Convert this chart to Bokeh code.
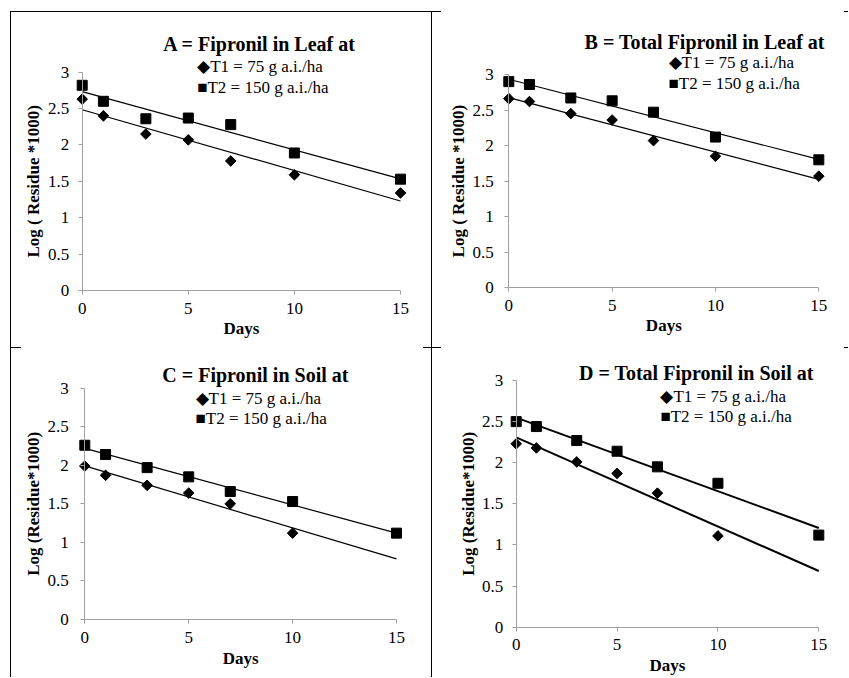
import numpy as np
from bokeh.plotting import figure
from bokeh.models import Range1d, FixedTicker, Label, Div, Spacer
from bokeh.layouts import row, column
from bokeh.embed import file_html
from bokeh.resources import INLINE

# ---------------- data ----------------
days = [0, 1, 3, 5, 7, 10, 15]
days_short = [0, 1, 3, 5, 7, 10]

a_t1 = [2.63, 2.40, 2.15, 2.07, 1.78, 1.59, 1.34]
a_t2 = [2.82, 2.60, 2.36, 2.37, 2.28, 1.89, 1.53]

b_t1 = [2.66, 2.62, 2.45, 2.36, 2.07, 1.85, 1.57]
b_t2 = [2.90, 2.86, 2.67, 2.63, 2.47, 2.12, 1.80]

c_t1 = [1.99, 1.87, 1.74, 1.64, 1.50, 1.12]
c_t2 = [2.26, 2.14, 1.97, 1.85, 1.66, 1.53, 1.12]

d_t1 = [2.23, 2.18, 2.01, 1.87, 1.63, 1.11]
d_t2 = [2.50, 2.44, 2.27, 2.14, 1.95, 1.75, 1.12]

x_ticks = [0, 5, 10, 15]
y_ticks = [0, 0.5, 1, 1.5, 2, 2.5, 3]
y_tick_labels = ["0", "0.5", "1", "1.5", "2", "2.5", "3"]

titles = ["A = Fipronil in Leaf at", "B = Total Fipronil in Leaf at",
          "C = Fipronil in Soil at", "D = Total Fipronil in Soil at"]
legend_labels = ["T1 = 75 g a.i./ha", "T2 = 150 g a.i./ha"]
ylabels = ["Log ( Residue *1000)", "Log ( Residue *1000)",
           "Log (Residue*1000)", "Log (Residue*1000)"]
xlabel = "Days"

FONT = "Liberation Serif"
AXIS_GRAY = "#a0a0a0"


def make_panel(w, h, x0px, x15px, y3px, y0px, x1, y1, x2, y2, title, ttl_xy,
               leg_x, leg_y, ylabel, ystand, ylab_px, xlab_px, lw):
    # the plot frame fills the whole canvas; axes sit at x = 0 and y = 0
    s = (x15px - x0px) / (x_ticks[-1] - x_ticks[0])
    t = (y0px - y3px) / (y_ticks[-1] - y_ticks[0])
    x_start = x_ticks[0] - x0px / s
    x_end = x_ticks[-1] + (w - x15px) / s
    y_start = y_ticks[0] - (h - y0px) / t
    y_end = y_ticks[0] + y0px / t
    p = figure(width=w, height=h,
               x_range=Range1d(x_start, x_end),
               y_range=Range1d(y_start, y_end),
               output_backend="svg", toolbar_location=None,
               min_border_left=0, min_border_right=0,
               min_border_top=0, min_border_bottom=0)
    p.xgrid.visible = False
    p.ygrid.visible = False
    p.outline_line_color = None
    p.background_fill_color = "white"
    p.border_fill_color = "white"

    p.xaxis.ticker = FixedTicker(ticks=x_ticks, minor_ticks=[])
    p.yaxis.ticker = FixedTicker(ticks=y_ticks, minor_ticks=[])
    p.yaxis.major_label_overrides = dict(zip(y_ticks, y_tick_labels))
    p.xaxis.fixed_location = y_ticks[0]
    p.yaxis.fixed_location = x_ticks[0]
    p.xaxis.bounds = (x_ticks[0], x_ticks[-1])
    p.yaxis.bounds = (y_ticks[0], y_ticks[-1])

    for ax in (p.xaxis[0], p.yaxis[0]):
        ax.axis_line_color = AXIS_GRAY
        ax.axis_line_width = 1
        ax.major_tick_line_color = AXIS_GRAY
        ax.major_tick_out = 4
        ax.major_tick_in = 0
        ax.minor_tick_line_color = None
        ax.major_label_text_font = FONT
        ax.major_label_text_font_size = "17px"
        ax.major_label_text_color = "black"
    p.xaxis.major_label_standoff = 8
    p.yaxis.major_label_standoff = ystand

    # axis titles
    p.add_layout(Label(x=(x_ticks[0] + x_ticks[-1]) / 2, y=y_ticks[0] - xlab_px / t,
                       text=xlabel, text_align="center", text_baseline="middle",
                       text_font=FONT, text_font_size="17px",
                       text_font_style="bold", text_color="black"))
    p.add_layout(Label(x=x_ticks[0] - ylab_px / s, y=(y_ticks[0] + y_ticks[-1]) / 2,
                       text=ylabel, angle=np.pi / 2,
                       text_align="center", text_baseline="middle",
                       text_font=FONT, text_font_size="17px",
                       text_font_style="bold", text_color="black"))

    # trend lines (least squares fit of each series, drawn over the day span)
    xs = np.array([days[0], days[-1]], dtype=float)
    for xx, yy in ((x1, y1), (x2, y2)):
        m, c = np.polyfit(xx, yy, 1)
        p.line(xs, m * xs + c, line_color="black", line_width=lw)

    p.scatter(x1, y1, marker="square", angle=np.pi / 4, size=7.5,
              fill_color="black", line_color="black")
    p.scatter(x2, y2, marker="square", size=10,
              fill_color="black", line_color="black")

    p.add_layout(Label(x=ttl_xy[0], y=ttl_xy[1], text=title,
                       text_align="center", text_baseline="middle",
                       text_font=FONT, text_font_size="20px",
                       text_font_style="bold", text_color="black"))
    p.add_layout(Label(x=leg_x, y=leg_y[0], text="\u25C6" + legend_labels[0],
                       text_align="left", text_baseline="middle",
                       text_font=FONT, text_font_size="17px", text_color="black"))
    p.add_layout(Label(x=leg_x, y=leg_y[1], text="\u25A0" + legend_labels[1],
                       text_align="left", text_baseline="middle",
                       text_font=FONT, text_font_size="17px", text_color="black"))
    return p


pA = make_panel(420, 335, 70.7, 389.0, 59.7, 278.0, days, a_t1, days, a_t2,
                titles[0], (8.36, 3.39), 5.42, (3.08, 2.785), ylabels[0], 9,
                48.7, 38.0, 1.2)
pB = make_panel(416, 335, 76.3, 386.3, 62.0, 275.3, days, b_t1, days, b_t2,
                titles[1], (9.48, 3.454), 7.73, (3.165, 2.878), ylabels[1], 11,
                50.0, 37.7, 1.2)
pC = make_panel(420, 329, 73.3, 385.0, 39.7, 271.0, days_short, c_t1, days, c_t2,
                titles[2], (8.21, 3.165), 5.33, (2.870, 2.611), ylabels[2], 12,
                51.0, 39.3, 1.2)
pD = make_panel(416, 329, 83.7, 386.3, 32.0, 278.7, days_short, d_t1, days, d_t2,
                titles[3], (8.93, 3.095), 7.15, (2.81, 2.567), ylabels[3], 9,
                47.4, 38.3, 2)


def line_div(wd, ht):
    return Div(width=wd, height=ht, margin=0,
               styles={"background-color": "black"})


def stub_row(total, left, right):
    return row(line_div(left, 1), Spacer(width=total - left - right, height=1, margin=0),
               line_div(right, 1))


layout = row(
    Spacer(width=10, height=677, margin=0),
    column(Spacer(width=1, height=11, margin=0), line_div(1, 666)),
    column(Spacer(width=420, height=11, margin=0), line_div(420, 1), pA,
           stub_row(420, 10, 8), pC),
    column(Spacer(width=1, height=11, margin=0), line_div(1, 666)),
    column(Spacer(width=416, height=11, margin=0), stub_row(416, 9, 4), pB,
           stub_row(416, 9, 4), pD),
)

open("out.html", "w").write(file_html(layout, INLINE))
